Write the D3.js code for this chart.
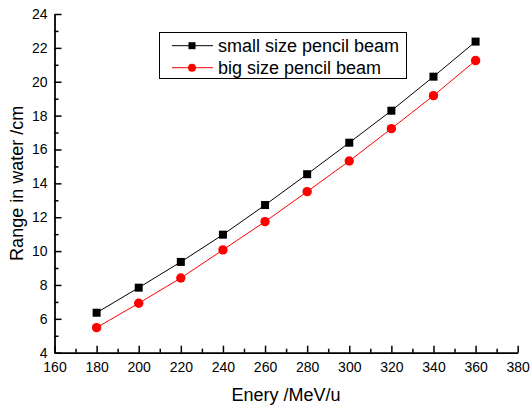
<!DOCTYPE html>
<html>
<head>
<meta charset="utf-8">
<script src="https://cdn.jsdelivr.net/npm/d3@7"></script>
<style>
  body { margin: 0; background: #fff; }
  text { font-family: Arial, "Liberation Sans", sans-serif; }
</style>
</head>
<body>
<div id="chart"></div>
<script>
// data
const energy = [180, 200, 220, 240, 260, 280, 300, 320, 340, 360];
const smallBeam = [6.36, 7.84, 9.36, 10.97, 12.72, 14.54, 16.40, 18.29, 20.30, 22.37];
const bigBeam = [5.48, 6.92, 8.41, 10.07, 11.74, 13.51, 15.32, 17.23, 19.18, 21.25];
const xTicks = [160, 180, 200, 220, 240, 260, 280, 300, 320, 340, 360, 380];
const yTicks = [4, 6, 8, 10, 12, 14, 16, 18, 20, 22, 24];
const seriesNames = ["small size pencil beam", "big size pencil beam"];

const width = 530;
const height = 407;
const margin = {left: 54.5, right: 12.3, top: 14, bottom: 54.3};

const svg = d3.select("#chart")
  .append("svg")
  .attr("width", width)
  .attr("height", height);

const xScale = d3.scaleLinear()
  .domain([160, 380])
  .range([margin.left, width - margin.right]);

const yScale = d3.scaleLinear()
  .domain([4, 24])
  .range([height - margin.bottom, margin.top]);

// minor ticks
svg.append("g")
  .attr("transform", `translate(0,${height - margin.bottom})`)
  .call(d3.axisBottom(xScale).tickValues(d3.range(170, 380, 20))
    .tickSizeInner(-4).tickSizeOuter(0).tickFormat(""))
  .call(g => g.select(".domain").remove())
  .selectAll("line").attr("stroke-width", 1.5);

svg.append("g")
  .attr("transform", `translate(${margin.left},0)`)
  .call(d3.axisLeft(yScale).tickValues(d3.range(5, 24, 2))
    .tickSizeInner(-4).tickSizeOuter(0).tickFormat(""))
  .call(g => g.select(".domain").remove())
  .selectAll("line").attr("stroke-width", 1.5);

// major axes
const xAxis = svg.append("g")
  .attr("transform", `translate(0,${height - margin.bottom})`)
  .call(d3.axisBottom(xScale).tickValues(xTicks)
    .tickSizeInner(-7).tickSizeOuter(0).tickPadding(9));
xAxis.attr("font-size", "14px").attr("font-family", "Arial, 'Liberation Sans', sans-serif");
xAxis.selectAll("text").attr("fill", "#000");
xAxis.selectAll("line").attr("stroke-width", 1.5);
xAxis.select(".domain").attr("stroke-width", 1.8);

const yAxis = svg.append("g")
  .attr("transform", `translate(${margin.left},0)`)
  .call(d3.axisLeft(yScale).tickValues(yTicks)
    .tickSizeInner(-7).tickSizeOuter(0).tickPadding(7));
yAxis.attr("font-size", "14px").attr("font-family", "Arial, 'Liberation Sans', sans-serif");
yAxis.selectAll("text").attr("fill", "#000");
yAxis.selectAll("line").attr("stroke-width", 1.5);
yAxis.select(".domain").attr("stroke-width", 1.8);

// axis titles
svg.append("text")
  .attr("x", (margin.left + width - margin.right) / 2)
  .attr("y", 401)
  .attr("text-anchor", "middle")
  .attr("font-size", "18px")
  .text("Enery /MeV/u");

svg.append("text")
  .attr("transform", `translate(23,${(margin.top + height - margin.bottom) / 2}) rotate(-90)`)
  .attr("text-anchor", "middle")
  .attr("font-size", "18px")
  .text("Range in water /cm");

// lines
const line = d3.line()
  .x((d, i) => xScale(energy[i]))
  .y(d => yScale(d));

svg.append("path")
  .datum(smallBeam)
  .attr("d", line)
  .attr("fill", "none")
  .attr("stroke", "#000")
  .attr("stroke-width", 1);

svg.append("path")
  .datum(bigBeam)
  .attr("d", line)
  .attr("fill", "none")
  .attr("stroke", "#ff0000")
  .attr("stroke-width", 1);

// markers
svg.selectAll(".sq")
  .data(smallBeam)
  .enter()
  .append("rect")
    .attr("class", "sq")
    .attr("x", (d, i) => xScale(energy[i]) - 4)
    .attr("y", d => yScale(d) - 4)
    .attr("width", 8)
    .attr("height", 8)
    .attr("fill", "#000");

svg.selectAll(".dot")
  .data(bigBeam)
  .enter()
  .append("circle")
    .attr("class", "dot")
    .attr("cx", (d, i) => xScale(energy[i]))
    .attr("cy", d => yScale(d))
    .attr("r", 4.7)
    .attr("fill", "#ff0000");

// legend
const legend = svg.append("g");
legend.append("rect")
  .attr("x", 159.5)
  .attr("y", 32.5)
  .attr("width", 247)
  .attr("height", 46)
  .attr("fill", "#fff")
  .attr("stroke", "#000")
  .attr("stroke-width", 1);

const legColors = ["#000", "#ff0000"];
seriesNames.forEach((name, i) => {
  const cy = 45.7 + i * 22;
  legend.append("line")
    .attr("x1", 172).attr("x2", 213)
    .attr("y1", cy).attr("y2", cy)
    .attr("stroke", legColors[i]).attr("stroke-width", 1);
  if (i === 0) {
    legend.append("rect")
      .attr("x", 192 - 3.5).attr("y", cy - 3.5)
      .attr("width", 7).attr("height", 7)
      .attr("fill", "#000");
  } else {
    legend.append("circle")
      .attr("cx", 192).attr("cy", cy).attr("r", 4)
      .attr("fill", "#ff0000");
  }
  legend.append("text")
    .attr("x", 218)
    .attr("y", cy)
    .attr("dy", "0.35em")
    .attr("font-size", "18px")
    .text(name);
});
</script>
</body>
</html>
